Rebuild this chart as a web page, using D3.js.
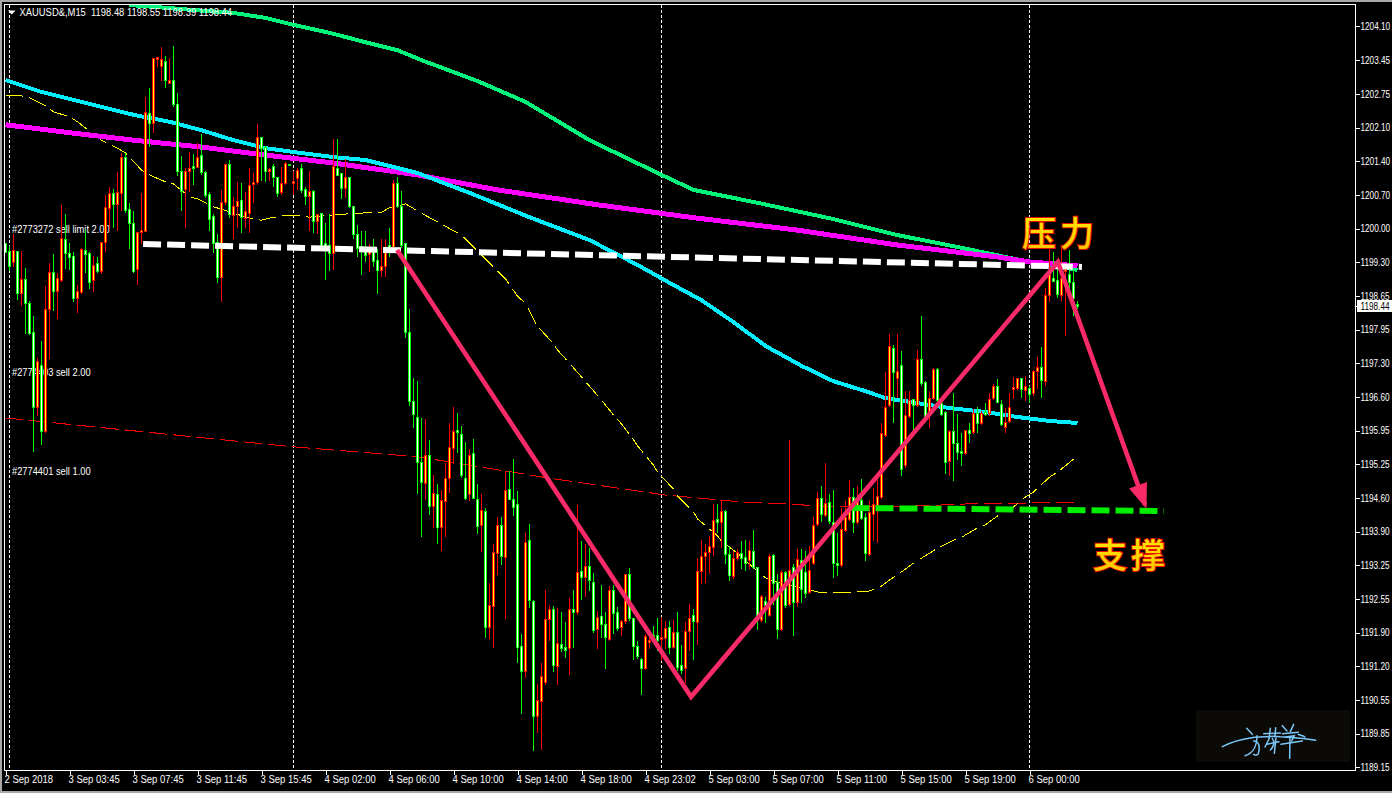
<!DOCTYPE html>
<html><head><meta charset="utf-8">
<style>html,body{margin:0;padding:0;background:#000;overflow:hidden}svg{display:block}text{font-family:"Liberation Sans",Arial,sans-serif}</style>
<script src="https://cdn.jsdelivr.net/npm/d3@7/dist/d3.min.js"></script>
</head><body><svg id="c" width="1392" height="793"></svg>
<script>
// [open, high, low, close] for each M15 bar, split by the session separators
const sep2Bars=[[1199.71,1199.71,1199.51,1199.51]];
const sep3Bars=[
[1199.53,1199.67,1199.15,1199.23],[1199.31,1199.91,1199.23,1199.57],[1199.53,1199.57,1198.58,1198.70],[1198.70,1199.57,1198.46,1198.97],[1198.97,1199.21,1197.88,1198.50],[1198.50,1198.56,1197.86,1197.90],[1197.92,1198.26,1195.51,1196.41],[1196.41,1197.40,1196.25,1197.32],[1197.24,1197.74,1195.65,1195.91],[1195.91,1198.85,1195.89,1198.38],
[1198.38,1199.31,1197.38,1199.11],[1199.11,1199.49,1198.36,1198.74],[1198.74,1199.11,1198.20,1198.99],[1198.95,1200.48,1198.93,1199.81],[1199.79,1200.30,1199.19,1199.49],[1199.49,1199.73,1199.17,1199.41],[1199.43,1199.53,1198.54,1198.60],[1198.60,1198.88,1198.32,1198.74],[1198.72,1199.63,1198.70,1199.59],[1199.57,1199.99,1199.11,1199.47],
[1199.49,1199.53,1198.79,1198.91],[1198.95,1199.45,1198.74,1199.25],[1199.29,1199.43,1199.11,1199.13],[1199.13,1199.75,1199.09,1199.73],[1199.73,1200.68,1199.53,1200.42],[1200.40,1200.84,1199.97,1200.70],[1200.70,1200.80,1200.03,1200.48],[1200.48,1201.14,1199.97,1200.72],[1200.70,1201.54,1200.37,1201.44],[1201.44,1201.54,1200.33,1200.37],
[1200.39,1200.52,1199.61,1200.11],[1200.11,1200.37,1199.11,1199.13],[1199.17,1199.93,1198.87,1199.93],[1199.93,1200.72,1199.71,1199.97],[1199.95,1202.65,1199.95,1202.33],[1202.31,1202.83,1201.66,1202.11],[1202.11,1203.45,1201.94,1203.43],[1203.41,1203.47,1203.27,1203.45],[1203.27,1203.67,1202.99,1203.41],[1203.37,1203.49,1202.83,1202.99],
[1202.93,1203.45,1202.93,1202.99],[1202.99,1203.69,1202.45,1202.49],[1202.49,1202.73,1201.06,1201.14],[1201.14,1201.48,1200.37,1200.74],[1200.78,1201.22,1200.03,1201.14],[1201.14,1201.56,1200.74,1201.20],[1201.26,1201.52,1200.88,1201.20],[1201.22,1201.74,1201.22,1201.44],[1201.48,1201.92,1201.08,1201.12],[1201.12,1201.16,1200.62,1200.66],
[1200.68,1200.74,1199.97,1200.19],[1200.25,1200.31,1199.51,1199.71],[1199.73,1199.91,1198.91,1199.01],[1199.01,1200.78,1198.54,1200.52],[1200.52,1201.32,1200.48,1201.30],[1201.30,1201.40,1200.23,1200.29],[1200.27,1200.64,1199.81,1200.44],[1200.44,1200.94,1200.03,1200.54],[1200.56,1200.92,1199.93,1200.23],[1200.21,1200.74,1200.03,1200.35],
[1200.31,1201.22,1199.93,1200.86],[1200.88,1201.12,1200.52,1200.92],[1200.92,1202.11,1200.88,1201.84],[1201.84,1201.84,1200.96,1201.62],[1201.64,1201.68,1200.94,1201.14],[1201.14,1201.22,1200.96,1201.18],[1201.24,1201.32,1200.84,1201.02],[1201.02,1201.04,1200.64,1200.70],[1200.72,1201.24,1200.68,1200.90],[1200.90,1201.36,1200.88,1201.32],[1201.30,1201.30,1201.28,1201.28]];
const sep4Bars=[
[1200.90,1201.16,1200.68,1200.94],[1201.00,1201.22,1200.78,1201.16],[1201.20,1201.32,1200.72,1200.76],[1200.78,1200.84,1200.48,1200.64],[1200.64,1201.16,1199.97,1200.74],[1200.74,1200.78,1199.93,1200.15],[1200.15,1200.29,1199.91,1200.29],[1200.31,1200.31,1199.57,1199.67],[1199.71,1200.13,1198.97,1199.57],[1199.67,1200.31,1199.15,1199.49],
[1199.49,1201.82,1199.17,1201.24],[1201.20,1201.82,1201.06,1201.06],[1201.10,1201.12,1200.60,1200.80],[1200.80,1201.42,1200.62,1201.02],[1201.02,1201.04,1200.42,1200.44],[1200.44,1200.46,1199.81,1199.89],[1199.89,1200.09,1199.43,1199.61],[1199.65,1199.97,1199.07,1199.57],[1199.53,1199.97,1199.33,1199.45],[1199.47,1199.71,1199.13,1199.57],
[1199.57,1199.81,1199.23,1199.33],[1199.35,1199.61,1198.70,1199.15],[1199.15,1199.81,1199.03,1199.23],[1199.23,1199.81,1199.03,1199.61],[1199.67,1200.03,1199.43,1199.57],[1199.57,1200.98,1199.53,1200.90],[1200.90,1201.04,1200.42,1200.44],[1200.44,1200.76,1199.63,1199.67],[1199.71,1199.73,1197.80,1197.92],[1197.92,1198.40,1196.45,1196.53],
[1196.53,1197.01,1195.99,1196.27],[1196.19,1196.95,1194.68,1195.30],[1195.30,1196.19,1193.80,1194.90],[1194.88,1196.17,1194.56,1195.43],[1195.43,1195.75,1194.24,1194.40],[1194.40,1195.06,1193.98,1194.68],[1194.66,1194.88,1193.66,1193.98],[1193.98,1194.76,1193.53,1194.52],[1194.50,1195.30,1193.80,1194.98],[1194.98,1196.09,1194.70,1195.59],
[1195.57,1196.43,1195.28,1195.91],[1195.93,1196.31,1195.49,1195.89],[1195.85,1196.03,1195.00,1195.04],[1194.98,1195.71,1194.56,1194.58],[1194.66,1195.57,1194.54,1195.43],[1195.47,1195.77,1194.58,1194.58],[1194.56,1194.88,1193.86,1194.00],[1194.02,1194.68,1193.51,1194.32],[1194.30,1194.38,1191.78,1191.98],[1191.98,1192.89,1191.76,1192.41],
[1192.39,1193.67,1191.58,1193.49],[1193.47,1194.20,1193.05,1194.02],[1194.02,1194.20,1193.25,1193.41],[1193.39,1195.14,1192.15,1194.74],[1194.76,1195.14,1194.56,1194.56],[1194.56,1195.38,1194.22,1194.38],[1194.44,1194.74,1191.28,1191.58],[1191.60,1191.86,1190.25,1191.08],[1191.08,1193.88,1190.96,1193.69],[1193.73,1194.06,1192.37,1192.51],
[1192.49,1192.53,1189.51,1190.19],[1190.19,1190.84,1189.87,1190.50],[1190.48,1191.28,1189.53,1190.98],[1190.86,1192.73,1190.82,1192.13],[1192.13,1192.41,1191.72,1192.33],[1192.33,1192.41,1191.08,1191.22],[1191.20,1192.37,1190.82,1191.66],[1191.64,1192.29,1191.50,1191.56],[1191.58,1192.09,1191.38,1191.52],[1191.56,1192.57,1191.02,1192.33],
[1192.33,1192.73,1191.58,1192.27],[1192.27,1194.44,1192.23,1193.09],[1193.11,1193.73,1192.53,1192.99],[1192.99,1193.67,1192.59,1193.21],[1193.21,1193.59,1192.71,1192.93],[1192.89,1193.09,1191.88,1191.92],[1191.94,1192.31,1191.56,1192.17],[1192.19,1192.83,1191.78,1192.03],[1192.03,1192.29,1191.14,1191.78],[1191.74,1192.81,1191.72,1192.71],
[1192.71,1192.83,1191.86,1192.25],[1192.27,1192.39,1191.92,1191.96],[1191.98,1192.13,1191.82,1192.09],[1192.09,1193.07,1192.05,1193.05],[1193.05,1193.19,1192.11,1192.15],[1192.15,1192.17,1191.34,1191.60],[1191.60,1191.72,1191.36,1191.40],[1191.34,1191.38,1190.62,1191.14],[1191.14,1191.86,1191.12,1191.80],[1191.68,1191.92,1191.56,1191.72],
[1191.82,1192.01,1191.78,1191.80],[1191.82,1192.17,1191.52,1191.72]];
const sep5Bars=[
[1191.74,1192.19,1191.32,1191.78],[1191.76,1192.11,1191.56,1191.96],[1191.98,1192.11,1191.46,1191.58],[1191.58,1192.13,1191.56,1191.88],[1191.88,1192.29,1191.10,1191.18],[1191.22,1191.64,1191.04,1191.10],[1191.14,1192.09,1190.86,1191.90],[1191.90,1192.45,1191.52,1192.15],[1192.21,1192.35,1191.34,1192.09],[1192.07,1193.39,1191.64,1193.11],
[1193.11,1193.75,1192.87,1193.41],[1193.41,1193.67,1192.89,1193.49],[1193.49,1193.83,1193.07,1193.61],[1193.59,1194.46,1193.43,1194.12],[1194.14,1194.46,1193.88,1194.08],[1194.08,1194.54,1193.59,1194.30],[1194.30,1194.34,1193.27,1193.45],[1193.45,1193.63,1192.93,1193.03],[1193.01,1193.53,1192.97,1193.37],[1193.37,1193.57,1193.33,1193.49],
[1193.47,1193.73,1193.17,1193.37],[1193.39,1193.75,1193.13,1193.27],[1193.33,1193.73,1193.17,1193.53],[1193.51,1193.94,1193.17,1193.19],[1193.19,1193.21,1191.94,1192.17],[1192.11,1192.63,1192.09,1192.59],[1192.49,1192.59,1192.07,1192.41],[1192.21,1193.47,1192.19,1193.41],[1193.43,1193.47,1192.43,1192.87],[1192.89,1193.07,1191.76,1191.94],
[1191.94,1193.13,1191.92,1193.09],[1193.09,1193.13,1192.37,1192.41],[1192.43,1195.75,1192.41,1193.13],[1193.19,1193.27,1191.82,1192.47],[1192.47,1193.57,1192.39,1193.35],[1193.33,1193.57,1192.47,1192.73],[1193.09,1193.53,1192.57,1192.65],[1192.67,1193.63,1192.65,1193.13],[1193.27,1194.20,1193.25,1194.02],[1194.04,1194.72,1194.02,1194.58],
[1194.58,1194.84,1194.10,1194.24],[1194.22,1195.30,1194.20,1194.46],[1194.48,1194.68,1194.06,1194.10],[1194.08,1194.76,1192.99,1193.27],[1193.27,1193.88,1193.03,1193.23],[1193.23,1194.38,1193.21,1193.94],[1193.92,1194.54,1193.90,1194.18],[1194.14,1194.96,1194.12,1194.60],[1194.60,1194.80,1193.88,1194.08],[1194.08,1194.84,1194.06,1194.54],
[1194.54,1194.98,1194.14,1194.16],[1194.18,1194.28,1193.33,1193.47],[1193.45,1194.54,1193.43,1194.28],[1194.24,1194.80,1193.73,1194.44],[1194.42,1195.00,1193.69,1194.62],[1194.60,1196.09,1194.58,1195.87],[1195.83,1197.12,1195.81,1196.41],[1196.45,1197.90,1196.43,1197.62],[1197.58,1197.66,1196.09,1197.10],[1196.99,1197.88,1196.61,1197.12],
[1197.24,1197.54,1195.04,1195.16],[1195.24,1196.75,1195.20,1196.25],[1196.23,1196.75,1196.21,1196.55],[1196.57,1196.59,1195.95,1196.45],[1196.45,1197.56,1196.43,1197.36],[1197.36,1198.26,1196.85,1196.89],[1196.91,1196.95,1196.21,1196.23],[1196.29,1196.75,1195.99,1196.59],[1196.59,1197.20,1196.57,1197.16],[1197.16,1197.20,1196.51,1196.55],
[1196.49,1196.55,1196.25,1196.27],[1196.31,1196.35,1195.08,1195.30],[1195.32,1195.95,1195.04,1195.91],[1195.91,1196.71,1194.94,1195.67],[1195.67,1196.29,1195.35,1195.49],[1195.51,1195.89,1195.24,1195.47],[1195.47,1195.95,1195.45,1195.93],[1195.93,1196.09,1195.69,1195.87],[1195.89,1196.39,1195.87,1196.29],[1196.29,1196.43,1195.89,1196.07],
[1196.07,1196.35,1196.05,1196.29],[1196.31,1196.51,1196.25,1196.27],[1196.29,1196.71,1196.25,1196.57],[1196.59,1196.89,1196.57,1196.83],[1196.83,1196.99,1196.51,1196.51],[1196.47,1196.57,1196.03,1196.05],[1195.99,1196.41,1195.89,1196.09],[1196.11,1196.71,1196.09,1196.41],[1196.77,1197.03,1196.59,1196.81],[1196.79,1196.99,1196.77,1196.99],
[1196.99,1197.01,1196.61,1196.77],[1196.75,1197.05,1196.55,1196.83]];
const sep6Bars=[
[1196.79,1196.85,1196.51,1196.67],[1196.69,1197.16,1196.65,1197.12],[1197.12,1197.42,1196.79,1197.20],[1197.20,1197.62,1196.61,1196.95],[1196.93,1198.81,1196.85,1198.66],[1198.66,1199.67,1198.54,1199.11],[1198.99,1199.53,1198.93,1198.93],[1198.95,1199.33,1198.62,1198.68],[1198.66,1199.69,1198.56,1198.99],[1199.13,1199.31,1197.84,1199.17],
[1199.07,1199.59,1198.58,1198.91],[1198.91,1199.17,1198.26,1198.60],[1198.48,1198.55,1198.39,1198.44]];

// moving averages, read as [bar index, price] at the points visible in the picture
const greenMa=[[31,1204.50],[50,1204.38],[57,1204.34],[65,1204.24],[72,1204.10],[81,1203.94],[90,1203.75],[98,1203.59],[104,1203.39],[118,1202.97],[130,1202.55],[146,1201.78],[163,1201.12],[172,1200.78],[188,1200.52],[206,1200.21],[223,1199.87],[238,1199.63],[256,1199.33],[268,1199.17]];
const cyanMa=[[0,1202.99],[9,1202.75],[24,1202.45],[32,1202.29],[41,1202.15],[49,1201.98],[57,1201.78],[65,1201.62],[74,1201.52],[82,1201.44],[90,1201.38],[98,1201.22],[103,1201.12],[116,1200.72],[131,1200.23],[146,1199.77],[158,1199.27],[166,1198.91],[174,1198.56],[182,1198.12],[190,1197.64],[199,1197.24],[207,1196.93],[215,1196.73],[220,1196.59],[228,1196.49],[236,1196.39],[245,1196.31],[253,1196.21],[261,1196.13],[268,1196.09]];
const magentaMa=[[0,1202.09],[15,1201.94],[32,1201.78],[49,1201.64],[65,1201.48],[82,1201.32],[103,1201.08],[123,1200.78],[148,1200.48],[173,1200.21],[198,1199.97],[223,1199.67],[248,1199.43],[256,1199.33],[268,1199.25]];
const yellowMa=[[0,1202.67],[4,1202.67],[6,1202.63],[10,1202.47],[12,1202.35],[16,1202.25],[18,1202.15],[22,1201.90],[24,1201.78],[28,1201.62],[30,1201.52],[34,1201.18],[36,1201.08],[40,1200.94],[42,1200.90],[46,1200.64],[48,1200.60],[52,1200.44],[54,1200.39],[61,1200.21],[64,1200.17],[66,1200.21],[70,1200.27],[72,1200.27],[76,1200.23],[81,1200.27],[88,1200.31],[94,1200.33],[96,1200.42],[100,1200.50],[104,1200.31],[114,1199.87],[118,1199.55],[123,1199.15],[125,1198.99],[128,1198.64],[130,1198.50],[132,1198.18],[133,1198.04],[137,1197.68],[138,1197.56],[142,1197.20],[149,1196.55],[152,1196.25],[154,1196.07],[157,1195.75],[158,1195.63],[162,1195.24],[163,1195.10],[167,1194.76],[168,1194.62],[172,1194.30],[173,1194.16],[178,1193.82],[179,1193.71],[183,1193.47],[189,1193.03],[191,1192.93],[200,1192.75],[203,1192.69],[207,1192.67],[210,1192.67],[216,1192.71],[219,1192.81],[221,1192.93],[225,1193.15],[227,1193.27],[231,1193.47],[233,1193.57],[237,1193.73],[239,1193.79],[243,1193.98],[245,1194.04],[249,1194.28],[252,1194.40],[255,1194.60],[257,1194.70],[261,1195.00],[263,1195.10],[267,1195.36]];
const redMa=[[0,1196.19],[72,1195.61],[103,1195.41],[136,1194.98],[165,1194.64],[184,1194.50],[195,1194.46],[208,1194.40],[228,1194.42],[240,1194.46],[256,1194.48],[268,1194.50]];

// hand-drawn objects, [bar index, price]
const resistanceLine=[[34.4,1199.69],[269.1,1199.23]];
const supportLine=[[211.5,1194.38],[289.6,1194.32]];
const zigzagLine=[[97.9,1199.57],[171.4,1190.58],[263.1,1199.33],[284.9,1194.44]];

const separatorBars=[1,72,164,256];
const xTickBars=[0,16,32,48,64,80,96,112,128,144,160,176,192,208,224,240,256];
const xTickLabels=["2 Sep 2018","3 Sep 03:45","3 Sep 07:45","3 Sep 11:45","3 Sep 15:45","4 Sep 02:00","4 Sep 06:00","4 Sep 10:00","4 Sep 14:00","4 Sep 18:00","4 Sep 23:02","5 Sep 03:00","5 Sep 07:00","5 Sep 11:00","5 Sep 15:00","5 Sep 19:00","6 Sep 00:00"];
const yTickLabels=["1189.15","1189.85","1190.55","1191.20","1191.90","1192.55","1193.25","1193.90","1194.60","1195.25","1195.95","1196.60","1197.30","1197.95","1198.65","1199.30","1200.00","1200.70","1201.40","1202.10","1202.75","1203.45","1204.10"];
const yTickStart=1189.16, yTickStep=0.6776;
const headerText="XAUUSD&,M15  1198.48 1198.55 1198.39 1198.44";
const orderLabels=[["#2773272 sell limit 2.00",1199.98],["#2774403 sell 2.00",1197.1],["#2774401 sell 1.00",1195.12]];
const lastPrice=1198.44;

const bars=[...sep2Bars,...sep3Bars,...sep4Bars,...sep5Bars,...sep6Bars].map((d,i)=>({i,o:d[0],h:d[1],l:d[2],c:d[3]}));

const svg=d3.select("#c");
const x=d3.scaleLinear().domain([0,268]).range([5.5,1077.5]);
const y=d3.scaleLinear().domain([1204.6,1189.15]).range([0,767.9]);
const snap=v=>Math.round(v-0.5)+0.5;
const squeeze=(sel,k)=>sel.each(function(){this.setAttribute("textLength",(this.getComputedTextLength()*k).toFixed(1));this.setAttribute("lengthAdjust","spacingAndGlyphs");});

// window edge
svg.append("rect").attr("x",0).attr("y",0).attr("width",1392).attr("height",793).attr("fill","#000");
svg.append("rect").attr("x",0).attr("y",0).attr("width",1392).attr("height",2).attr("fill","#a8a8a8");
svg.append("rect").attr("x",0).attr("y",0).attr("width",2).attr("height",793).attr("fill","#a8a8a8");
svg.append("rect").attr("x",0).attr("y",791).attr("width",1392).attr("height",2).attr("fill","#a8a8a8");

svg.append("defs").append("clipPath").attr("id","plot").append("rect").attr("x",5).attr("y",5).attr("width",1350).attr("height",765);
const defs=svg.select("defs");
const grad=defs.append("linearGradient").attr("id","gold").attr("x1",0).attr("x2",0).attr("y1",0).attr("y2",1);
grad.append("stop").attr("offset","0%").attr("stop-color","#fff000");
grad.append("stop").attr("offset","100%").attr("stop-color","#ffc000");

const plot=svg.append("g").attr("clip-path","url(#plot)");

// separators
plot.append("g").selectAll("line").data(separatorBars).join("line")
 .attr("x1",d=>x(d)).attr("x2",d=>x(d)).attr("y1",5).attr("y2",770)
 .attr("stroke","#fff").attr("stroke-dasharray","3,2").attr("shape-rendering","crispEdges");

// order labels under the candles
plot.append("g").selectAll("text").data(orderLabels).join("text")
 .attr("x",12).attr("y",d=>y(d[1])+3.5).attr("fill","#fff").attr("font-size",10).text(d=>d[0])
 .call(squeeze,0.93);

// moving averages
const line=d3.line().x(d=>x(d[0])).y(d=>y(d[1]));
const maStyles=[[redMa,"#ff0000",1,"18,6"],[yellowMa,"#ffff00",1,"18,6"],[greenMa,"#00f57a",4,null],[magentaMa,"#ff00ff",5,null],[cyanMa,"#00f0ff",4,null]];
plot.append("g").selectAll("path").data(maStyles).join("path")
 .attr("d",d=>line(d[0])).attr("fill","none").attr("stroke",d=>d[1]).attr("stroke-width",d=>d[2])
 .attr("stroke-dasharray",d=>d[3]).attr("shape-rendering","crispEdges");

// candles: red outline / yellow body when rising, green outline / white body when falling
const candle=plot.append("g").selectAll("g").data(bars).join("g");
const up=d=>d.c>=d.o;
candle.append("line").attr("x1",d=>x(d.i)).attr("x2",d=>x(d.i)).attr("y1",d=>snap(y(d.h))).attr("y2",d=>snap(y(d.l)))
 .attr("stroke",d=>up(d)?"#ff0000":"#00ff00").attr("shape-rendering","crispEdges");
candle.append("rect").attr("x",d=>x(d.i)-1).attr("width",2)
 .attr("y",d=>snap(y(Math.max(d.o,d.c))))
 .attr("height",d=>Math.max(1,snap(y(Math.min(d.o,d.c)))-snap(y(Math.max(d.o,d.c)))))
 .attr("fill",d=>up(d)?"#ffff00":"#ffffff").attr("stroke",d=>up(d)?"#ff0000":"#00ff00")
 .attr("shape-rendering","crispEdges");

// objects
plot.append("path").attr("d",line(resistanceLine)).attr("fill","none").attr("stroke","#fff").attr("stroke-width",6).attr("stroke-dasharray","18,6");
plot.append("path").attr("d",line(supportLine)).attr("fill","none").attr("stroke","#00ee00").attr("stroke-width",6).attr("stroke-dasharray","18,6");
plot.append("path").attr("d",line(zigzagLine)).attr("fill","none").attr("stroke","#f92a68").attr("stroke-width",4.6).attr("stroke-linejoin","miter");
// arrow head on the last leg
(function(){
 const a=zigzagLine[2],b=zigzagLine[3];
 const bx=x(b[0]),by=y(b[1]),dx=bx-x(a[0]),dy=by-y(a[1]),n=Math.hypot(dx,dy),ux=dx/n,uy=dy/n;
 const tx=bx+ux*4,ty=by+uy*4,cx=tx-ux*25,cy=ty-uy*25,w=9.5;
 plot.append("path").attr("d",`M${tx},${ty}L${cx-uy*w},${cy+ux*w}L${cx+uy*w},${cy-ux*w}Z`).attr("fill","#f92a68");
})();

// captions
const caption=(t,px,py)=>svg.append("text").attr("x",px).attr("y",py).text(t)
 .attr("font-size",34).attr("font-weight",500).attr("letter-spacing",4)
 .style("font-family",'"Noto Sans CJK SC",sans-serif')
 .attr("fill","url(#gold)").attr("stroke","#e81000").attr("stroke-width",2).attr("paint-order","stroke");
caption("压力",1022,246);
caption("支撑",1093,568);

// watermark signature
svg.append("rect").attr("x",1196).attr("y",710).attr("width",154).attr("height",52).attr("fill","#0b0a06");
const sig=svg.append("g").attr("transform","translate(1195,705) scale(0.3333)").attr("fill","none").attr("stroke","#7cc6f7").attr("stroke-width",4.5).attr("stroke-linecap","round");
["M82,125C110,110 140,102 170,98C200,96 225,92 255,95C290,97 330,100 362,106","M155,70L172,88","M186,92C186,120 175,145 150,152","M176,108C192,108 196,125 190,146C188,150 182,152 176,148",
 "M206,86L256,84","M226,70L222,102L210,126","M242,68L240,96","M232,100C240,112 236,125 226,135","M215,118L252,110","M243,100L238,145",
 "M262,62L276,78","M296,58L286,80","M262,86L310,82","M272,96L298,92L290,108","M258,118L322,108","M285,100L284,160","M310,88C318,92 325,92 330,96"].forEach(p=>sig.append("path").attr("d",p));

// frame and axes
svg.append("rect").attr("x",4.5).attr("y",4.5).attr("width",1351).attr("height",766).attr("fill","none").attr("stroke","#fff").attr("shape-rendering","crispEdges");

const yTicks=yTickLabels.map((_,k)=>yTickStart+k*yTickStep);
const yAxis=svg.append("g").attr("transform","translate(1355.5,0)")
 .call(d3.axisRight(y).tickValues(yTicks).tickSize(4).tickPadding(2).tickFormat((d,i)=>yTickLabels[i]));
const xAxis=svg.append("g").attr("transform","translate(0,770.5)")
 .call(d3.axisBottom(x).tickValues(xTickBars).tickSize(4).tickPadding(0).tickFormat((d,i)=>xTickLabels[i]));
[yAxis,xAxis].forEach(a=>{a.select(".domain").remove();a.selectAll("line").attr("stroke","#fff").attr("shape-rendering","crispEdges");
 a.selectAll("text").attr("fill","#fff").attr("font-size",10).style("font-family",'"Liberation Sans",Arial,sans-serif');});
xAxis.selectAll("text").attr("text-anchor","start").attr("x",-1.5).attr("dy",0).attr("y",12.5).call(squeeze,0.95);
yAxis.selectAll("text").attr("x",5).call(squeeze,0.82);

// last price tag
const lastY=y(lastPrice);
svg.append("rect").attr("x",1357).attr("y",Math.round(lastY)-6).attr("width",35).attr("height",12).attr("fill","#fff");
svg.append("line").attr("x1",1355).attr("x2",1357).attr("y1",snap(lastY)).attr("y2",snap(lastY)).attr("stroke","#fff");
svg.append("text").attr("x",1360.5).attr("y",lastY+3.5).attr("fill","#000").attr("font-size",10).text(d3.format(".2f")(lastPrice)).call(squeeze,0.82);

// header
svg.append("path").attr("d","M8,10.5L15.5,10.5L11.75,14.5Z").attr("fill","#fff");
svg.append("text").attr("x",19.5).attr("y",16).attr("fill","#fff").attr("font-size",10).attr("xml:space","preserve").style("white-space","pre").text(headerText).call(squeeze,0.94);
</script></body></html>
